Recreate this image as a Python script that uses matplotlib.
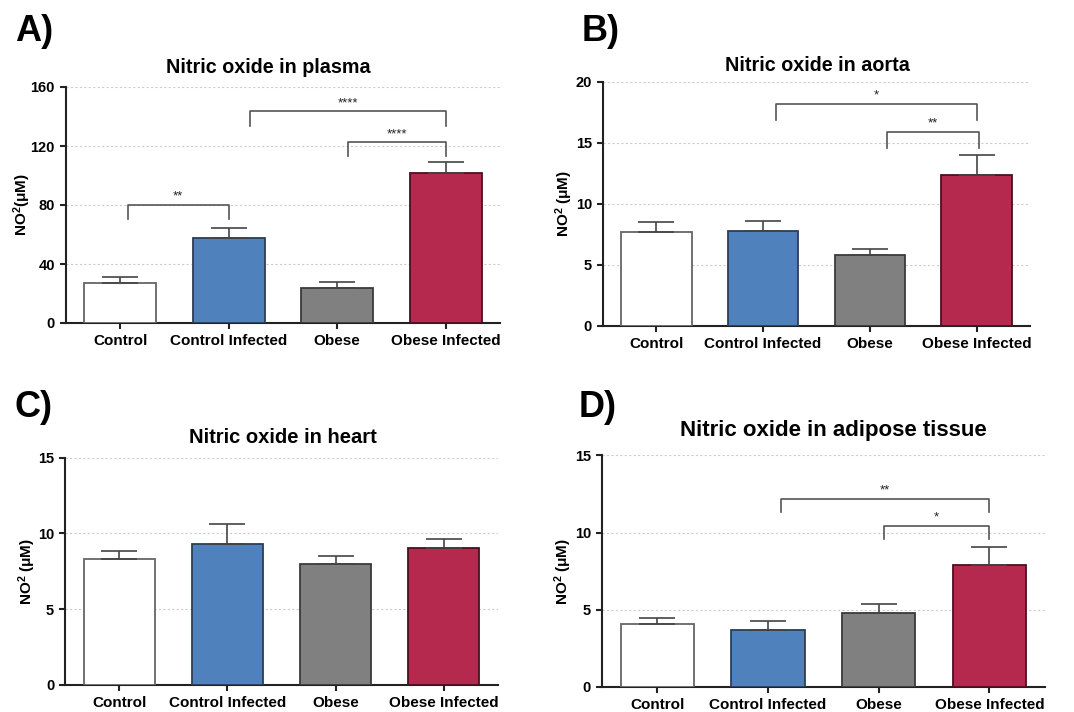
import numpy as np
import matplotlib
matplotlib.use("Agg")
import matplotlib.pyplot as plt

plt.rcParams['font.family'] = ['Liberation Sans', 'DejaVu Sans']
plt.rcParams['mathtext.fontset'] = 'custom'
plt.rcParams['mathtext.rm'] = 'Liberation Sans:bold'
plt.rcParams['mathtext.bf'] = 'Liberation Sans:bold'
plt.rcParams['mathtext.default'] = 'bf'

# groups
groups = ['Control', 'Control Infected', 'Obese', 'Obese Infected']
bar_colors = ['#FFFFFF', '#4F81BD', '#808080', '#B5294F']
edge_colors = ['#666666', '#2E3E55', '#3A3A3A', '#4A1020']

# means and upper error (SEM)
plasma_mean = [27.3, 57.8, 23.7, 101.5]
plasma_err = [3.9, 6.8, 4.1, 7.7]
aorta_mean = [7.65, 7.79, 5.80, 12.35]
aorta_err = [0.82, 0.76, 0.51, 1.62]
heart_mean = [8.33, 9.30, 7.96, 9.06]
heart_err = [0.53, 1.34, 0.53, 0.55]
adipose_mean = [4.08, 3.67, 4.79, 7.90]
adipose_err = [0.41, 0.58, 0.61, 1.15]

# significance brackets: (x left, x right, bracket y, leg bottom y, label)
plasma_sig = [(0.07, 1.0, 80, 70.3, '**'),
              (1.2, 3.0, 143.5, 133.8, '****'),
              (2.1, 3.0, 122.5, 113.4, '****')]
aorta_sig = [(1.12, 3.0, 18.2, 16.9, '*'),
             (2.16, 3.02, 15.9, 14.57, '**')]
heart_sig = []
adipose_sig = [(1.12, 3.0, 12.2, 11.35, '**'),
               (2.05, 3.0, 10.43, 9.57, '*')]

W, H = 1074, 712
fig = plt.figure(figsize=(W / 100, H / 100), dpi=100)


def px_axes(l, r, t, b):
    return fig.add_axes([l / W, 1 - b / H, (r - l) / W, (b - t) / H])


panels = [
    # (axes box px, letter, letter pos, title, title pos, title size, means, errs, ymax, ystep, sig, ylabel, labelpad)
    ((66, 500, 87, 323), 'A)', (15, 40.7), 'Nitric oxide in plasma', (268, 73.3), 14.2,
     plasma_mean, plasma_err, 160, 40, plasma_sig, 'NO$^{2}$(μM)', -2),
    ((603, 1030, 81.7, 325.7), 'B)', (582, 40.7), 'Nitric oxide in aorta', (817, 71), 14.2,
     aorta_mean, aorta_err, 20, 5, aorta_sig, 'NO$^{2}$ (μM)', 0.5),
    ((65.3, 497.7, 457.7, 685), 'C)', (15, 416.7), 'Nitric oxide in heart', (282.7, 443.3), 14.5,
     heart_mean, heart_err, 15, 5, heart_sig, 'NO$^{2}$ (μM)', 0),
    ((602, 1044.7, 455.3, 687), 'D)', (579, 416.7), 'Nitric oxide in adipose tissue', (833, 436), 16,
     adipose_mean, adipose_err, 15, 5, adipose_sig, 'NO$^{2}$ (μM)', 0.5),
]

x = np.arange(len(groups))
for box, letter, lpos, title, tpos, tsize, means, errs, ymax, ystep, sig, ylab, lpad in panels:
    ax = px_axes(*box)
    ax.bar(x, means, width=0.66, color=bar_colors, edgecolor=edge_colors,
           linewidth=1.3, zorder=3)
    ax.errorbar(x, means, yerr=[np.zeros(len(means)), errs], fmt='none',
                ecolor='#444444', elinewidth=1.2, capsize=13, capthick=1.2, zorder=4)
    for x0, x1, yl, yb, lab in sig:
        ax.plot([x0, x0, x1, x1], [yb, yl, yl, yb], color='#555555', lw=1.2,
                zorder=5, clip_on=False)
        ax.annotate(lab, xy=((x0 + x1) / 2, yl), xytext=(0, 1.5),
                    textcoords='offset points', ha='center', va='bottom',
                    fontsize=9.5, color='#222222')
    ax.set_xlim(-0.5, 3.5)
    ax.set_ylim(0, ymax)
    ax.set_yticks(np.arange(0, ymax + 0.1, ystep))
    ax.set_xticks(x)
    ax.set_xticklabels(groups, fontsize=11, fontweight='bold')
    for t in ax.get_yticklabels():
        t.set_fontweight('bold')
        t.set_fontsize(10.5)
    ax.yaxis.grid(True, linestyle=(0, (2, 2)), color='#cccccc', linewidth=0.8, zorder=0)
    ax.set_axisbelow(True)
    for s in ['top', 'right']:
        ax.spines[s].set_visible(False)
    for s in ['left', 'bottom']:
        ax.spines[s].set_linewidth(1.5)
        ax.spines[s].set_color('#222222')
    ax.tick_params(axis='both', width=1.5, length=4.5, color='#222222')
    ax.set_ylabel(ylab, fontsize=11, fontweight='bold', labelpad=lpad)
    fig.text(lpos[0] / W, 1 - lpos[1] / H, letter, fontsize=26, fontweight='bold',
             ha='left', va='baseline')
    fig.text(tpos[0] / W, 1 - tpos[1] / H, title, fontsize=tsize, fontweight='bold',
             ha='center', va='baseline')

fig.savefig('out.png', dpi=100)
